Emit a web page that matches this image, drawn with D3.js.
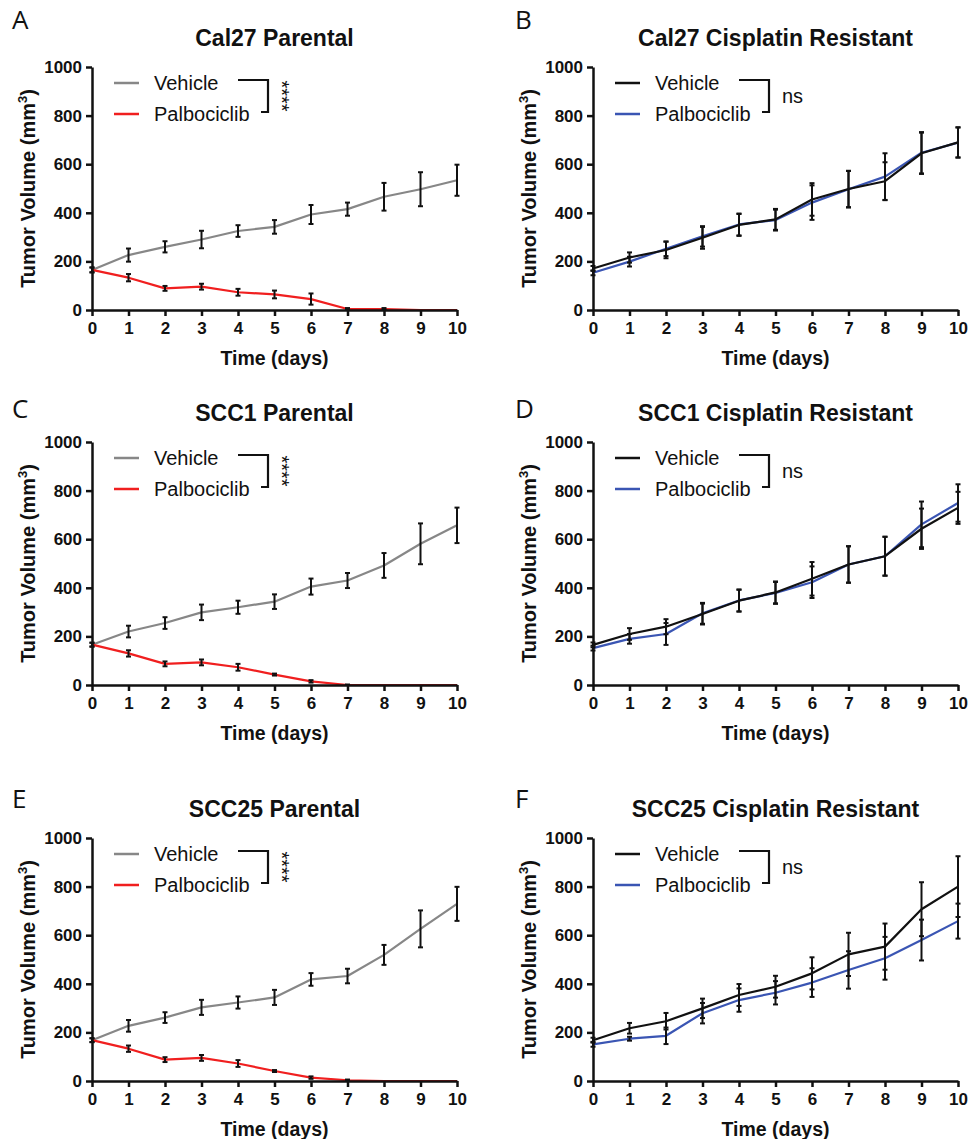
<!DOCTYPE html>
<html>
<head>
<meta charset="utf-8">
<script src="https://cdn.jsdelivr.net/npm/d3@7.9.0/dist/d3.min.js"></script>
<style>
  html, body { margin: 0; padding: 0; background: #fff; }
  svg { display: block; }
</style>
</head>
<body>
<div id="chart"></div>
<script>
// ---- data ----
const days = [0, 1, 2, 3, 4, 5, 6, 7, 8, 9, 10];
const yTicks = [0, 200, 400, 600, 800, 1000];

const vehA = [165, 226, 260, 290, 325, 342, 393, 415, 466, 497, 534];
const vehAErr = [10, 27, 23, 36, 24, 28, 39, 27, 57, 70, 64];
const palA = [165, 133, 89, 96, 73, 64, 45, 4, 4, 0, 0];
const palAErr = [10, 15, 10, 12, 14, 16, 23, 4, 4, 0, 0];

const vehB = [171, 216, 247, 297, 350, 373, 455, 498, 530, 645, 690];
const vehBErr = [10, 21, 34, 45, 45, 43, 67, 75, 78, 85, 62];
const palB = [153, 199, 252, 303, 352, 370, 442, 497, 549, 647, 689];
const palBErr = [10, 20, 30, 42, 45, 43, 71, 75, 96, 85, 62];

const vehC = [166, 220, 255, 299, 320, 343, 405, 430, 492, 581, 657];
const vehCErr = [8, 24, 24, 32, 27, 30, 33, 31, 51, 84, 73];
const palC = [166, 130, 87, 93, 73, 43, 15, 0, 0, 0, 0];
const palCErr = [8, 13, 10, 12, 14, 4, 5, 2, 0, 0, 0];

const vehD = [165, 210, 240, 292, 347, 381, 437, 496, 530, 643, 729];
const vehDErr = [10, 24, 31, 43, 45, 45, 69, 75, 80, 83, 66];
const palD = [152, 190, 210, 295, 348, 379, 423, 496, 530, 661, 749];
const palDErr = [10, 20, 45, 43, 45, 45, 65, 75, 80, 94, 77];

const vehE = [168, 227, 261, 303, 323, 344, 418, 432, 519, 626, 729];
const vehEErr = [8, 24, 22, 31, 25, 31, 26, 30, 41, 76, 70];
const palE = [168, 133, 88, 95, 72, 41, 14, 3, 0, 0, 0];
const palEErr = [8, 13, 10, 12, 14, 4, 5, 3, 0, 0, 0];

const vehF = [168, 217, 246, 299, 354, 388, 443, 521, 553, 707, 800];
const vehFErr = [10, 22, 34, 40, 45, 45, 66, 89, 95, 111, 125];
const palF = [151, 174, 186, 279, 333, 363, 405, 457, 505, 580, 658];
const palFErr = [10, 8, 34, 42, 48, 48, 59, 77, 88, 84, 72];

const letters = ['A', 'B', 'C', 'D', 'E', 'F'];
const titles = ['Cal27 Parental', 'Cal27 Cisplatin Resistant', 'SCC1 Parental',
  'SCC1 Cisplatin Resistant', 'SCC25 Parental', 'SCC25 Cisplatin Resistant'];
const seriesNames = ['Vehicle', 'Palbociclib'];
const sigLabels = ['****', 'ns', '****', 'ns', '****', 'ns'];

const vehicle = [vehA, vehB, vehC, vehD, vehE, vehF];
const vehicleErr = [vehAErr, vehBErr, vehCErr, vehDErr, vehEErr, vehFErr];
const palbo = [palA, palB, palC, palD, palE, palF];
const palboErr = [palAErr, palBErr, palCErr, palDErr, palEErr, palFErr];

// ---- layout ----
const W = 971, H = 1139;
const colX = [92, 593];          // y-axis position for each column
const plotW = 365;
const rowTop = [67, 442, 838];
const plotH = 243;
const letterY = [29, 418, 808];

const FONT = '"Liberation Sans", Arial, sans-serif';
const colors = {
  parental: ['#878787', '#f01f1f'],
  resistant: ['#111111', '#3a55b3']
};

const svg = d3.select('#chart').append('svg')
  .attr('width', W)
  .attr('height', H)
  .style('background', '#fff');

titles.forEach((title, i) => {
  const col = i % 2;
  const row = Math.floor(i / 2);
  const x0 = colX[col];
  const y0 = rowTop[row];
  const parental = col === 0;
  const cols = parental ? colors.parental : colors.resistant;

  const x = d3.scaleLinear().domain([0, 10]).range([0, plotW]);
  const y = d3.scaleLinear().domain([0, 1000]).range([plotH, 0]);

  const g = svg.append('g').attr('transform', `translate(${x0},${y0})`);

  // panel letter
  svg.append('text')
    .attr('x', col === 0 ? 12 : 515)
    .attr('y', letterY[row])
    .attr('font-family', '"Open Sans", "Noto Sans", sans-serif')
    .attr('font-size', 26)
    .attr('fill', '#111')
    .text(letters[i]);

  // title
  g.append('text')
    .attr('x', plotW / 2)
    .attr('y', -21.5)
    .attr('text-anchor', 'middle')
    .attr('font-family', FONT)
    .attr('font-weight', 'bold')
    .attr('font-size', 23)
    .attr('fill', '#111')
    .text(title);

  // series: vehicle first, palbociclib second; in resistant panels vehicle drawn on top
  const series = [
    { mean: vehicle[i], err: vehicleErr[i], color: cols[0] },
    { mean: palbo[i], err: palboErr[i], color: cols[1] }
  ];
  const drawOrder = parental ? [0, 1] : [1, 0];

  const line = d3.line()
    .x((d, j) => x(days[j]))
    .y(d => y(d));

  drawOrder.forEach(k => {
    g.append('path')
      .datum(series[k].mean)
      .attr('fill', 'none')
      .attr('stroke', series[k].color)
      .attr('stroke-width', 2.2)
      .attr('stroke-linejoin', 'round')
      .attr('d', line);
  });

  // error bars (black)
  series.forEach(s => {
    const eg = g.append('g').attr('stroke', '#111').attr('stroke-width', 2);
    const pts = days.map((d, j) => ({ d, m: s.mean[j], e: s.err[j] })).filter(p => p.e > 0);
    eg.selectAll('line.v').data(pts).join('line')
      .attr('x1', p => x(p.d)).attr('x2', p => x(p.d))
      .attr('y1', p => y(p.m + p.e)).attr('y2', p => y(Math.max(0, p.m - p.e)));
    eg.selectAll('line.t').data(pts).join('line')
      .attr('x1', p => x(p.d) - 2.5).attr('x2', p => x(p.d) + 2.5)
      .attr('y1', p => y(p.m + p.e)).attr('y2', p => y(p.m + p.e));
    eg.selectAll('line.b').data(pts).join('line')
      .attr('x1', p => x(p.d) - 2.5).attr('x2', p => x(p.d) + 2.5)
      .attr('y1', p => y(Math.max(0, p.m - p.e))).attr('y2', p => y(Math.max(0, p.m - p.e)));
  });

  // axes
  const xAxis = d3.axisBottom(x).tickValues(days).tickFormat(d3.format('d'))
    .tickSize(6).tickSizeOuter(0).tickPadding(5);
  const yAxis = d3.axisLeft(y).tickValues(yTicks).tickFormat(d3.format('d'))
    .tickSize(6).tickSizeOuter(0).tickPadding(4);

  const gx = g.append('g').attr('transform', `translate(0,${plotH})`).call(xAxis);
  const gy = g.append('g').call(yAxis);
  [gx, gy].forEach(a => {
    a.selectAll('path, line').attr('stroke', '#111').attr('stroke-width', 2.5);
    a.selectAll('text')
      .attr('font-family', FONT)
      .attr('font-weight', 'bold')
      .attr('font-size', 17)
      .attr('fill', '#111');
  });
  gx.selectAll('text').attr('dy', '0.75em');

  // axis titles
  g.append('text')
    .attr('x', plotW / 2)
    .attr('y', plotH + 55)
    .attr('text-anchor', 'middle')
    .attr('font-family', FONT)
    .attr('font-weight', 'bold')
    .attr('font-size', 19.5)
    .attr('fill', '#111')
    .text('Time (days)');

  const yt = g.append('text')
    .attr('transform', `translate(-57,${plotH / 2}) rotate(-90)`)
    .attr('text-anchor', 'middle')
    .attr('font-family', FONT)
    .attr('font-weight', 'bold')
    .attr('font-size', 20)
    .attr('fill', '#111');
  yt.append('tspan').text('Tumor Volume (mm');
  yt.append('tspan').attr('dy', -8).attr('font-size', 13).text('3');
  yt.append('tspan').attr('dy', 8).text(')');

  // legend
  const lg = g.append('g');
  seriesNames.forEach((name, k) => {
    const ly = 16 + k * 31;
    lg.append('line')
      .attr('x1', 22).attr('x2', 47)
      .attr('y1', ly).attr('y2', ly)
      .attr('stroke', series[k].color)
      .attr('stroke-width', 2.5);
    lg.append('text')
      .attr('x', 62)
      .attr('y', ly + 7)
      .attr('font-family', FONT)
      .attr('font-size', 20)
      .attr('fill', '#111')
      .text(name);
  });

  // significance bracket
  lg.append('path')
    .attr('d', `M146,13H176V45H169`)
    .attr('fill', 'none')
    .attr('stroke', '#111')
    .attr('stroke-width', 2.2);

  if (sigLabels[i] === 'ns') {
    lg.append('text')
      .attr('x', 189)
      .attr('y', 36)
      .attr('font-family', FONT)
      .attr('font-size', 20)
      .attr('fill', '#111')
      .text(sigLabels[i]);
  } else {
    lg.append('text')
      .attr('transform', `translate(183,29) rotate(90)`)
      .attr('text-anchor', 'middle')
      .attr('font-family', FONT)
      .attr('font-size', 20)
      .attr('fill', '#111')
      .text(sigLabels[i]);
  }
});
</script>
</body>
</html>
